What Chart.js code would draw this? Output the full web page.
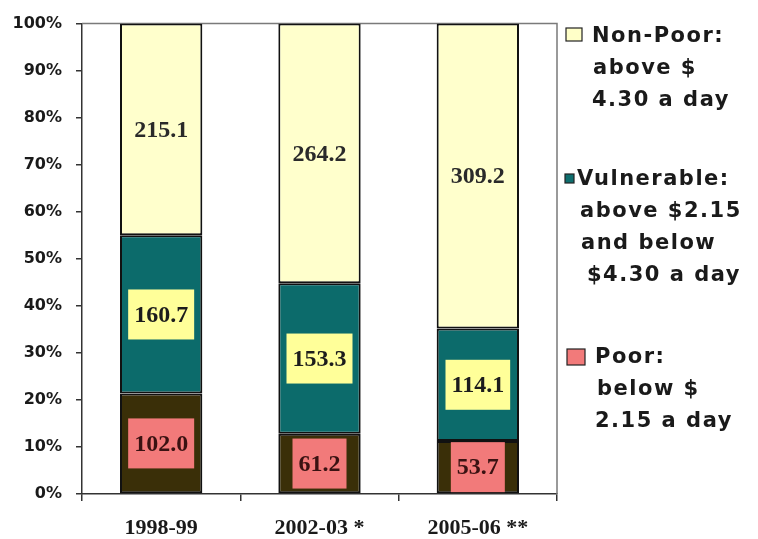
<!DOCTYPE html>
<html>
<head>
<meta charset="utf-8">
<script src="https://cdn.jsdelivr.net/npm/chart.js@4.4.0/dist/chart.umd.min.js"></script>
<style>body{margin:0;background:#fff}</style>
</head>
<body>
<canvas id="grafic" width="758" height="539"></canvas>
<script>
// values (millions of people)
const years = ['1998-99', '2002-03 *', '2005-06 **'];
const poor = [102.0, 61.2, 53.7];
const vulnerable = [160.7, 153.3, 114.1];
const non_poor = [215.1, 264.2, 309.2];
const y_ticks = [0, 10, 20, 30, 40, 50, 60, 70, 80, 90, 100];

const non_poor_text = ['Non-Poor:', 'above $', '4.30 a day'];
const vulnerable_text = ['Vulnerable:', 'above $2.15', 'and below', '$4.30 a day'];
const poor_text = ['Poor:', 'below $', '2.15 a day'];

const total = poor.map((v, i) => v + vulnerable[i] + non_poor[i]);
function share(arr) {
    return arr.map((v, i) => v / total[i] * 100);
}

const label_plugin = {
    id: 'labels',
    afterDatasetsDraw(chart) {
        const ctx = chart.ctx;
        ctx.save();
        ctx.font = 'bold 24px "Liberation Serif", serif';
        ctx.textAlign = 'center';
        ctx.textBaseline = 'middle';
        chart.data.datasets.forEach((ds, d) => {
            chart.getDatasetMeta(d).data.forEach((bar, i) => {
                const text = ds.values[i].toFixed(1);
                let cy = (bar.y + bar.base) / 2;
                if (ds.box) {
                    const w = ctx.measureText(text).width + 12;
                    const h = 50;
                    if (cy + h / 2 > bar.base - 1) cy = bar.base - 1 - h / 2;
                    ctx.fillStyle = ds.box;
                    ctx.fillRect(bar.x - w / 2, cy - h / 2, w, h);
                }
                ctx.fillStyle = ds.textColor;
                ctx.fillText(text, bar.x, cy + 1);
            });
        });
        ctx.restore();
    }
};

const frame_plugin = {
    id: 'frame',
    beforeDatasetsDraw(chart) {
        const a = chart.chartArea;
        const ctx = chart.ctx;
        ctx.save();
        ctx.strokeStyle = '#7a7a7a';
        ctx.lineWidth = 1.5;
        ctx.beginPath();
        ctx.moveTo(a.left, a.top);
        ctx.lineTo(a.right, a.top);
        ctx.lineTo(a.right, a.bottom);
        ctx.stroke();
        ctx.restore();
    }
};

const legend_plugin = {
    id: 'sidelegend',
    afterDraw(chart) {
        const ctx = chart.ctx;
        ctx.save();
        ctx.font = 'bold 21px "DejaVu Sans", sans-serif';
        ctx.textBaseline = 'alphabetic';
        ctx.letterSpacing = '1.5px';
        const items = [
            {lines: non_poor_text, color: '#ffffc8', sq: [566, 28, 16, 13], xs: [592, 593, 592], y: 42},
            {lines: vulnerable_text, color: '#0e6e6e', sq: [565, 174, 9, 9], xs: [577, 580, 581, 587], y: 185},
            {lines: poor_text, color: '#f27a7a', sq: [567, 349, 18, 16], xs: [595, 597, 595], y: 363}
        ];
        items.forEach(it => {
            ctx.fillStyle = it.color;
            ctx.fillRect(it.sq[0], it.sq[1], it.sq[2], it.sq[3]);
            ctx.strokeStyle = '#222';
            ctx.lineWidth = 1.2;
            ctx.strokeRect(it.sq[0], it.sq[1], it.sq[2], it.sq[3]);
            ctx.fillStyle = '#1a1a1a';
            it.lines.forEach((t, k) => {
                ctx.fillText(t, it.xs[k], it.y + k * 32);
            });
        });
        ctx.restore();
    }
};

const data = {
    labels: years,
    datasets: [{
        label: 'Poor',
        data: share(poor),
        values: poor,
        backgroundColor: '#3a2f08',
        box: '#f27a7a',
        textColor: '#3a1212'
    }, {
        label: 'Vulnerable',
        data: share(vulnerable),
        values: vulnerable,
        backgroundColor: '#0c6b6b',
        box: '#ffff99',
        textColor: '#1c1c1c'
    }, {
        label: 'Non-Poor',
        data: share(non_poor),
        values: non_poor,
        backgroundColor: '#ffffcc',
        box: null,
        textColor: '#2a2a2a'
    }]
};
data.datasets.forEach(ds => {
    ds.borderColor = '#111';
    ds.borderWidth = 2;
    ds.borderSkipped = false;
    ds.barPercentage = 0.52;
    ds.categoryPercentage = 1;
});

const config = {
    type: 'bar',
    data: data,
    plugins: [frame_plugin, label_plugin, legend_plugin],
    options: {
        responsive: false,
        animation: false,
        layout: {padding: {top: 18, right: 201, bottom: 0, left: 0}},
        plugins: {legend: {display: false}, tooltip: {enabled: false}},
        scales: {
            x: {
                stacked: true,
                afterFit: s => { s.height = 45; },
                grid: {offset: true, drawOnChartArea: false, tickLength: 7, color: '#333', lineWidth: 1.5},
                border: {color: '#333', width: 1.5},
                ticks: {
                    color: '#1a1a1a',
                    padding: 14,
                    font: {family: '"Liberation Serif", serif', size: 22, weight: 'bold'}
                }
            },
            y: {
                stacked: true,
                min: 0,
                max: 100,
                afterFit: s => { s.width = 82; },
                afterBuildTicks: s => { s.ticks = y_ticks.map(v => ({value: v})); },
                grid: {drawOnChartArea: false, tickLength: 6, color: '#333', lineWidth: 1.5},
                border: {color: '#333', width: 1.5},
                ticks: {
                    color: '#1a1a1a',
                    padding: 14,
                    font: {family: '"DejaVu Sans", sans-serif', size: 16, weight: 'bold'},
                    callback: v => v + '%'
                }
            }
        }
    }
};

const grafica = new Chart(document.getElementById('grafic'), config);
</script>
</body>
</html>
